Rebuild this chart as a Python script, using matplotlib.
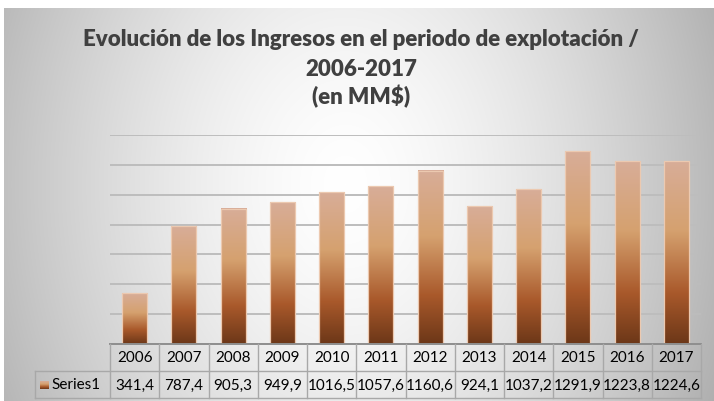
import numpy as np
import matplotlib
matplotlib.use('Agg')
import matplotlib.pyplot as plt
from matplotlib.colors import LinearSegmentedColormap
from matplotlib.patches import Rectangle

# ---------------- data ----------------
years = ['2006', '2007', '2008', '2009', '2010', '2011',
         '2012', '2013', '2014', '2015', '2016', '2017']
values = [341.4, 787.4, 905.3, 949.9, 1016.5, 1057.6,
          1160.6, 924.1, 1037.2, 1291.9, 1223.8, 1224.6]
series_name = 'Series1'
title_lines = ['Evolución de los Ingresos en el periodo de explotación /',
               '2006-2017',
               '(en MM$)']
y_max = 1400
y_step = 200

value_labels = [f'{v:.1f}'.replace('.', ',') for v in values]

plt.rcParams['font.family'] = ['Lato', 'DejaVu Sans']

W, H = 714, 402
fig = plt.figure(figsize=(W / 100, H / 100), dpi=100)
fig.patch.set_facecolor('white')

# ---------------- background radial gradient ----------------
bx0, by0 = 4, 9
bg = fig.add_axes([bx0 / W, 0, 1 - bx0 / W, 1 - by0 / H])
bg.set_axis_off()
py, px = np.mgrid[by0:H:1.0, bx0:W:1.0]
r = np.sqrt(((px - 345) / 410.0) ** 2 + ((py - 185) / 540.0) ** 2)
g = 1 - 0.32 * np.clip(r, 0, 1.3) ** 1.5
bg.imshow(np.dstack([g, g, g]), aspect='auto', extent=[0, 1, 0, 1],
          origin='upper', interpolation='bilinear')
bg.set_xlim(0, 1)
bg.set_ylim(0, 1)

# ---------------- title ----------------
title_x = 361 / W
baselines = [46.5, 75.5, 104.5]
for line, yb in zip(title_lines, baselines):
    fig.text(title_x, 1 - yb / H, line, ha='center', va='baseline',
             fontsize=16, fontweight='heavy', color='#404040')

# ---------------- main axes ----------------
L, R, T, B = 110, 701, 136, 345
ax = fig.add_axes([L / W, 1 - B / H, (R - L) / W, (B - T) / H])
ax.patch.set_alpha(0)
for s in ax.spines.values():
    s.set_visible(False)

x = np.arange(len(years))
bars = ax.bar(x, values, width=0.51, color='none', edgecolor='none', zorder=2)

bar_cmap = LinearSegmentedColormap.from_list('bar', [
    (0.00, '#d8ad98'),
    (0.38, '#d5a16f'),
    (0.72, '#a9592b'),
    (1.00, '#6c3718'),
])
grad = np.linspace(0, 1, 256).reshape(-1, 1)
for b in bars:
    x0, w, h = b.get_x(), b.get_width(), b.get_height()
    ax.imshow(grad, cmap=bar_cmap, aspect='auto', origin='upper',
              extent=[x0, x0 + w, 0, h], zorder=2, interpolation='bilinear')
    ax.add_patch(Rectangle((x0, 0), w, h, facecolor='none',
                           edgecolor='#ecc9b0', lw=0.9, zorder=3))

ax.set_xlim(-0.5, len(years) - 0.5)
ax.set_ylim(0, y_max)
ax.set_yticks(np.arange(0, y_max + 1, y_step))
ax.yaxis.grid(True, color='#bdbdbd', lw=1.4, zorder=0)
ax.set_axisbelow(True)
ax.tick_params(axis='both', length=0, labelleft=False, labelbottom=False)

# ---------------- data table ----------------
trans = ax.get_xaxis_transform()
px_per_unit = (R - L) / len(years)
label_left = -0.5 - (L - 35) / px_per_unit
row_h = 27.0 / (B - T)
line_col = '#a8a8a8'
n = len(years)

ax.plot([-0.5, n - 0.5], [0, 0], color='#8e8e8e', lw=1.4, transform=trans,
        clip_on=False, zorder=4)
ax.plot([label_left, n - 0.5], [-row_h, -row_h], color=line_col, lw=1.0,
        transform=trans, clip_on=False, zorder=4)
ax.plot([label_left, n - 0.5], [-2 * row_h, -2 * row_h], color=line_col,
        lw=1.0, transform=trans, clip_on=False, zorder=4)
for i in range(n + 1):
    ax.plot([i - 0.5, i - 0.5], [0, -2 * row_h], color=line_col, lw=1.0,
            transform=trans, clip_on=False, zorder=4)
ax.plot([label_left, label_left], [-row_h, -2 * row_h], color=line_col,
        lw=1.0, transform=trans, clip_on=False, zorder=4)

for i, (yr, vl) in enumerate(zip(years, value_labels)):
    ax.text(i, -0.5 * row_h, yr, transform=trans, ha='center', va='center',
            fontsize=11, color='black', clip_on=False)
    ax.text(i, -1.5 * row_h, vl, transform=trans, ha='center', va='center',
            fontsize=11, color='black', clip_on=False)

sq_w = 8 / px_per_unit
sq_left = label_left + 5 / px_per_unit
sq_h = 8.0 / (B - T)
ax.imshow(grad, cmap=bar_cmap, aspect='auto', origin='upper', transform=trans,
          extent=[sq_left, sq_left + sq_w, -1.5 * row_h - sq_h / 2,
                  -1.5 * row_h + sq_h / 2], zorder=4, clip_on=False)
ax.text(label_left + 16 / px_per_unit, -1.5 * row_h, series_name,
        transform=trans, ha='left', va='center', fontsize=11, color='black',
        clip_on=False)

ax.set_xlim(-0.5, n - 0.5)
ax.set_ylim(0, y_max)

fig.savefig('out.png', dpi=100)
